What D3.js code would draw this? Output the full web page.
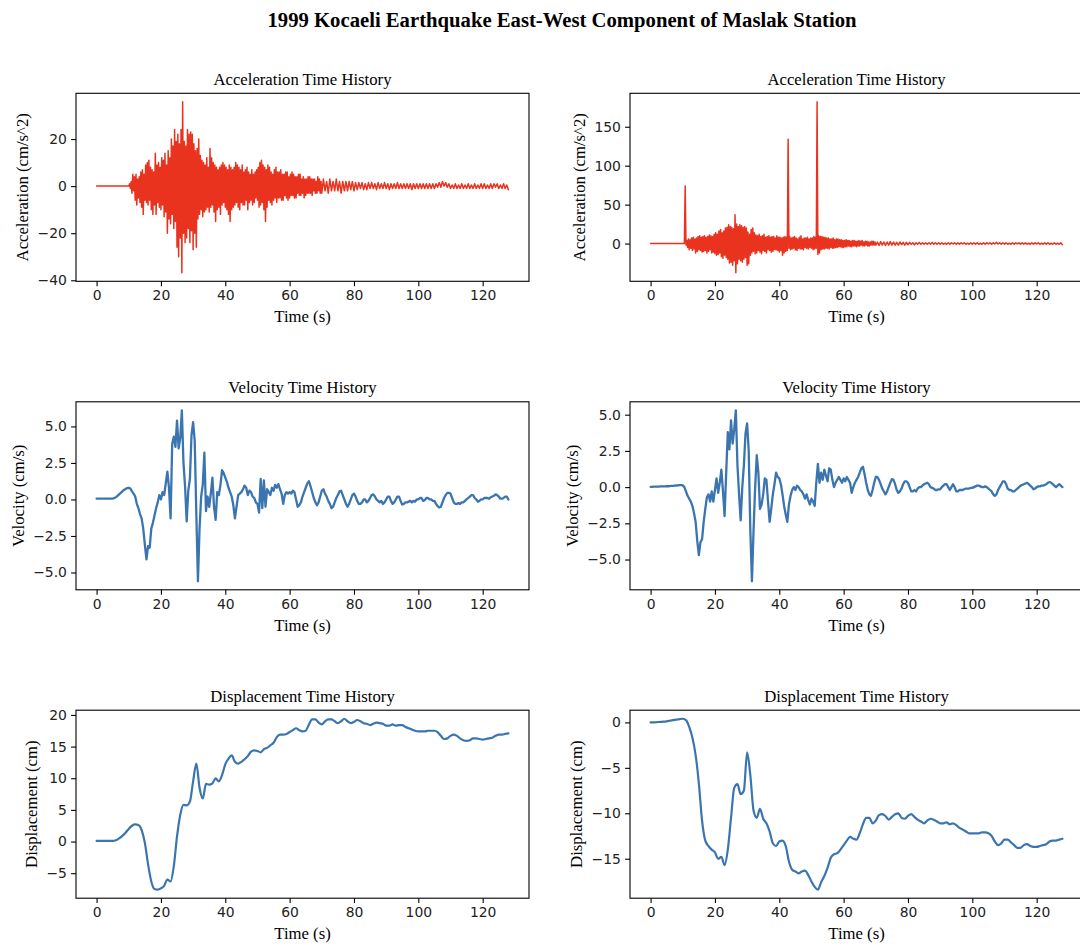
<!DOCTYPE html>
<html><head><meta charset="utf-8">
<script src="https://cdn.jsdelivr.net/npm/d3@7"></script>
<style>body{margin:0;background:#fff}</style>
</head><body>
<svg id="chart" width="1080" height="946"></svg>
<script>
// ---------------- DATA ----------------
const figTitle = "1999 Kocaeli Earthquake East-West Component of Maslak Station";
const panelTitles = ["Acceleration Time History","Velocity Time History","Displacement Time History"];
const yLabels = ["Acceleration (cm/s^2)","Velocity (cm/s)","Displacement (cm)"];
const xLabel = "Time (s)";
const xTicks = [0,20,40,60,80,100,120];
const accLeftTicks = [-40,-20,0,20];
const accRightTicks = [0,50,100,150];
const velTicks = [-5,-2.5,0,2.5,5];
const dispLeftTicks = [-5,0,5,10,15,20];
const dispRightTicks = [-15,-10,-5,0];

// acceleration: quiet until onset, then peaks every 0.25 s to 70 s, then every 0.5 s
const ACC_ONSET = 10, ACC_DT = 0.25, ACC_TAIL_START = 70.5, ACC_TAIL_DT = 0.5;
const accLeftStrong = [
0,1,-1,2, -3,5,-2,4, -6,5,-8,3, -5,4,-7,6, -9,7,-12,5, -6,9,-7,10, -8,11,-6,8, -10,7,-12,6, -8,14,-12,9, -7,10,-9,8,
-10,12,-8,11, -13,14,-11,9, -20,15,-14,12, -16,20,-12,17, -18,24,-15,19, -26,22,-30,18, -22,24,-36.8,35.8, -20,19,-24,17, -22,24,-18,22, -24,23,-19,22,
-27,18,-20,15, -26,16,-14,20, -12,13,-10,11, -13,10,-11,9, -10,12,-9,8, -11,16,-9,12, -8,10,-11,9, -15,8,-10,7, -9,8,-12,9, -8,10,-7,9,
-9,8,-10,7, -12,9,-15,8, -10,7,-9,8, -8,10,-7,9, -9,8,-10,7, -7,9,-8,6, -8,7,-6,8, -10,6,-7,5, -6,7,-8,5, -7,6,-5,7,
-6,8,-9,10, -8,11,-7,9, -10,8,-15,7, -9,9,-6,8, -7,6,-8,5, -6,7,-5,8, -7,6,-5,6, -5,7,-6,5, -6,5,-4,6, -5,6,-6,4,
-5,5,-4,6, -4,5,-5,4, -5,4,-3,5, -4,5,-4,3, -3,4,-5,3, -4,3,-3,4, -3,4,-3,3, -4,3,-2,3, -3,2,-3,4, -2,3,-3,2,
-3];
const accLeftTail = [
3,-2,2,-3,3,-2,2,-2,3,-2, 2,-3,2,-2,2,-2,2,-1.5,2,-2,
1.5,-1.5,1.5,-1,1.5,-1.5,1,-1.5,1.5,-1, 1.5,-1,1,-1.5,1.5,-1,1,-1,1.5,-1,
1,-1.5,1,-1,1,-1,1.5,-1,1,-1, 1,-1,1,-1,1,-1.5,1,-1,1,-1,
1,-1,1,-1,1,-1,1,-1,1,-1, 1,-0.5,1.5,-0.5,2,0,1.5,-0.5,1,-1,
0.5,-1,1,-1,0.5,-1,1,-1,0.5,-1, 1,-1,0.5,-1,1,-1,0.5,-1,1,-1,
1,-1,0.5,-1,1,-1,1,-0.5,1,-1, 0.5,-1,1,-1,0.5,-1.5];
const accRightStrong = [
0,0,0,74, -2,4,-5,6, -8,5,-6,7, -9,8,-7,6, -12,7,-10,9, -8,10,-9,8, -11,9,-10,10, -9,8,-12,9, -10,11,-8,10, -12,9,-11,12,
-13,14,-15,12, -14,16,-12,18, -17,14,-19,16, -15,20,-18,21, -20,24,-25,22, -24,21,-28,19, -22,37,-37.5,25, -26,22,-20,24, -22,23,-24,21, -20,22,-18,20,
-28,15,-26,12, -15,18,-12,20, -10,14,-13,11, -12,10,-9,12, -11,9,-13,10, -9,12,-10,8, -12,9,-8,10, -9,8,-11,9, -10,9,-8,7, -8,10,-9,8,
-11,8,-9,7, -15,8,-12,9, -10,8,-9,134, -6,9,-8,7, -7,8,-6,9, -8,7,-9,6, -6,8,-7,10, -7,6,-8,7, -5,7,-6,8, -7,6,-5,7,
-6,7,-8,9, -7,8,-6,182, -14,10,-12,9, -8,9,-7,8, -7,8,-6,7, -6,7,-7,6, -5,6,-6,7, -6,5,-5,6, -5,6,-4,5, -4,5,-5,4,
-5,4,-4,5, -4,4,-3,4, -4,3,-4,4, -3,4,-3,3, -4,3,-3,4, -3,3,-2,4, -3,2,-3,3, -2,3,-3,2, -3,2,-2,3, -2,3,-2,2,
-2];
const accRightTail = [
2,-2.5,2.5,-2,2,-2.5,2,-2,2.5,-2, 2,-2,1.5,-2,2,-1.5,1.5,-2,1.5,-1.5,
1.5,-1,1,-1.5,1,-1,1.5,-1,1,-1, 1,-1,1,-1,1.5,-1,1,-1,1,-1,
1,-1,0.5,-1,1,-1,1,-0.5,1,-1, 1,-1,1,-0.5,1,-1,0.5,-1,1,-1,
1,-1,1,-1,0.5,-1,1,-1,1,-0.5, 1,-1,1,-0.5,1.5,-0.5,1,-1,1,-1,
1,-1,0.5,-1,1,-1,1,-0.5,1,-1, 1,-1,1,-1,0.5,-1,1,-1,1,-0.5,
1,-1,0.5,-1,1,-1,1,-1,0.5,-1, 1,-1,0.5,-1,1,-1.5];

// velocity every 0.5 s from 0 to 128 s
const VEL_DT = 0.5;
const velLeft = [
0.05,0.05,0.05,0.05,0.05,0.05,0.05,0.05,0.05,0.05,
0.05,0.1,0.15,0.25,0.35,0.45,0.55,0.65,0.72,0.78,
0.8,0.75,0.55,0.4,0.2,-0.3,-0.6,-1.0,-1.3,-2.0,
-3.1,-4.1,-3.2,-3.3,-2.0,-1.6,-1.1,-0.6,-0.2,0.3,
0.0,0.5,0.3,1.1,1.9,0.8,-1.3,3.8,4.3,3.6,
5.4,3.5,4.2,6.1,2.5,0.9,-1.5,0.6,1.4,4.4,
5.3,4.0,-1.0,-5.6,-2.0,0.2,1.0,3.2,-0.8,0.2,
-0.5,0.4,1.5,-0.5,-1.4,0.5,0.3,1.0,2.0,1.8,
1.5,1.2,0.8,0.5,0.2,-0.4,-1.3,-0.5,0.3,0.4,
0.5,0.7,0.95,0.8,0.3,0.6,0.5,0.2,0.1,-0.2,
-0.3,-0.9,1.4,-0.6,1.3,-0.5,0.7,0.5,0.3,0.8,
0.6,1.0,0.8,1.05,0.7,0.4,-0.3,0.3,0.5,0.4,
0.5,0.4,0.6,0.5,0.0,-0.5,-0.4,-0.2,0.2,0.5,
0.8,1.1,1.25,0.9,0.5,0.1,-0.2,-0.4,-0.2,0.2,
0.6,0.7,0.4,0.2,-0.1,-0.3,-0.6,-0.5,-0.2,0.1,
0.3,0.55,0.6,0.3,0.0,-0.3,-0.5,-0.3,0.0,0.3,
0.4,0.2,-0.1,-0.3,-0.3,-0.2,0.0,0.0,-0.2,-0.1,
0.1,0.3,0.35,0.2,0.0,-0.1,-0.2,-0.1,-0.3,-0.2,
0.0,0.2,0.2,-0.1,-0.3,-0.2,0.0,0.2,0.2,-0.1,
-0.35,-0.3,-0.2,-0.2,-0.15,-0.1,-0.2,-0.1,-0.15,0.0,
0.0,0.1,0.1,-0.1,-0.05,0.1,0.1,0.0,0.0,-0.1,
-0.1,-0.3,-0.45,-0.55,-0.5,-0.2,0.1,0.3,0.45,0.45,
0.4,0.1,-0.2,-0.3,-0.3,-0.25,-0.3,-0.2,-0.2,-0.1,
0.0,0.1,0.2,0.3,0.3,0.1,0.0,-0.15,-0.1,0.0,
0.0,0.1,0.1,0.1,0.05,0.15,0.2,0.25,0.35,0.3,
0.2,0.05,0.05,0.1,0.2,0.2,0.0];
const velRight = [
0.02,0.02,0.03,0.03,0.04,0.04,0.05,0.05,0.05,0.05,
0.06,0.06,0.07,0.08,0.09,0.1,0.11,0.12,0.14,0.14,
0.12,0.0,-0.3,-0.6,-0.8,-1.0,-1.3,-1.8,-2.4,-3.7,
-4.7,-3.8,-3.6,-2.4,-1.5,-0.7,-0.5,-1.0,-0.3,-1.0,
-0.2,0.6,-0.4,0.3,1.2,-0.3,-2.0,1.0,3.8,2.6,
4.6,3.0,4.0,5.3,1.5,-0.5,-2.3,0.0,1.5,3.7,
4.4,2.5,-3.0,-6.5,-3.0,0.0,2.2,1.0,-1.5,-1.2,
-0.5,0.6,0.5,-1.0,-2.4,-1.5,-0.5,0.2,1.0,0.7,
0.6,0.2,-0.5,-1.3,-1.9,-2.4,-1.2,-0.6,-0.2,0.0,
-0.2,0.1,0.0,-0.2,-0.3,-0.5,-0.8,-0.5,-0.9,-1.2,
-0.8,-1.0,-1.3,0.3,1.6,0.3,1.0,0.5,1.2,0.8,
0.4,1.3,1.2,0.5,0.0,0.3,0.5,0.7,0.5,0.3,
0.6,0.4,0.7,0.5,0.3,-0.4,0.0,0.3,0.5,0.7,
1.0,1.3,1.4,0.9,0.3,-0.2,-0.5,-0.6,-0.2,0.3,
0.7,0.7,0.5,0.2,-0.1,-0.3,-0.5,-0.3,0.0,0.3,
0.55,0.5,0.2,-0.2,-0.4,-0.3,-0.1,0.2,0.4,0.4,
0.3,0.0,-0.3,-0.3,-0.2,-0.3,-0.1,0.0,0.0,0.1,
0.2,0.25,0.3,0.2,0.0,-0.05,-0.1,-0.2,-0.2,-0.15,
-0.15,0.0,0.1,0.2,0.2,0.0,-0.2,0.0,0.2,0.0,
-0.3,-0.3,-0.2,-0.2,-0.2,-0.15,-0.1,-0.1,-0.1,-0.05,
-0.05,0.0,0.05,0.1,0.1,0.05,0.0,0.0,0.05,0.0,
-0.1,-0.2,-0.3,-0.5,-0.6,-0.5,-0.2,0.0,0.2,0.4,
0.4,0.2,-0.1,-0.2,-0.2,-0.3,-0.3,-0.2,-0.1,0.0,
0.1,0.15,0.2,0.25,0.3,0.2,0.1,0.0,-0.15,-0.1,
0.0,0.05,0.05,0.1,0.1,0.15,0.2,0.3,0.35,0.3,
0.2,0.1,0.0,0.1,0.2,0.1,0.0];

// displacement every 1 s from 0 to 128 s
const DISP_DT = 1;
const dispLeft = [
0.1,0.1,0.1,0.1,0.1,0.1,0.2,0.5,0.9,1.4,
2.0,2.5,2.7,2.6,1.8,-0.2,-3.6,-6.3,-7.5,-7.6,
-7.4,-7.0,-6.0,-6.3,-3.9,0.8,4.2,5.8,5.7,6.3,
9.5,12.3,8.5,6.8,9.1,9.0,9.2,10.0,9.5,10.5,
12.2,13.1,13.6,12.6,12.3,12.6,13.0,13.5,14.2,14.4,
14.3,14.1,14.6,14.8,15.2,15.6,16.5,16.9,16.9,17.0,
17.3,17.6,17.9,17.6,17.4,17.5,18.5,19.3,19.3,18.8,
18.5,19.0,19.3,19.3,19.0,18.7,19.0,19.4,19.0,18.7,
18.9,19.2,19.0,18.7,18.6,18.4,18.6,18.8,18.7,18.6,
18.3,18.3,18.5,18.3,18.4,18.4,18.1,17.9,17.7,17.5,
17.4,17.4,17.4,17.5,17.5,17.5,17.3,16.7,16.2,16.3,
16.7,16.9,16.7,16.3,16.0,15.9,16.0,16.3,16.3,16.2,
16.1,16.2,16.3,16.4,16.7,16.9,16.9,17.0,17.1];
const dispRight = [
0.0,0.0,0.02,0.05,0.08,0.12,0.18,0.24,0.3,0.36,
0.4,0.25,-0.5,-1.7,-3.6,-6.7,-10.8,-13.0,-13.6,-14.0,
-14.3,-15.0,-14.8,-15.7,-14.0,-10.5,-7.2,-6.8,-7.9,-7.5,
-3.3,-5.8,-9.7,-10.5,-9.5,-10.6,-11.1,-12.0,-13.3,-13.6,
-13.1,-13.0,-13.6,-15.3,-16.2,-16.4,-16.6,-16.4,-16.3,-16.8,
-17.5,-18.1,-18.4,-17.6,-16.9,-16.0,-14.9,-14.5,-14.4,-14.0,
-13.5,-13.0,-12.6,-12.8,-12.9,-12.2,-11.2,-10.5,-10.5,-11.1,
-10.8,-10.2,-10.1,-10.3,-10.7,-10.4,-10.1,-10.0,-10.5,-10.6,
-10.3,-10.1,-10.4,-10.7,-10.9,-11.1,-10.8,-10.6,-10.7,-10.9,
-11.1,-11.1,-11.0,-11.2,-11.1,-11.3,-11.6,-11.8,-12.0,-12.2,
-12.2,-12.2,-12.2,-12.1,-12.1,-12.2,-12.5,-13.1,-13.5,-13.3,
-12.9,-12.9,-13.2,-13.5,-13.8,-13.8,-13.5,-13.4,-13.6,-13.7,
-13.7,-13.6,-13.5,-13.4,-13.1,-13.0,-13.0,-12.9,-12.8];

// ---------------- BUILD SERIES ----------------
function accSeries(strong, tail) {
  const pts = [[0, 0]];
  strong.forEach((v, i) => pts.push([ACC_ONSET + i * ACC_DT, v]));
  tail.forEach((v, i) => pts.push([ACC_TAIL_START + i * ACC_TAIL_DT, v]));
  return pts;
}
const uniform = (arr, dt) => arr.map((v, i) => [i * dt, v]);

const RED = "#e9331f", BLUE = "#3a75b0";
const fmtInt = d3.format("d"), fmt1 = d3.format(".1f");
const panels = [
  {row:0,col:0,data:accSeries(accLeftStrong,accLeftTail),color:RED,lw:1.5,ticks:accLeftTicks,fmt:fmtInt,curve:d3.curveLinear},
  {row:0,col:1,data:accSeries(accRightStrong,accRightTail),color:RED,lw:1.5,ticks:accRightTicks,fmt:fmtInt,curve:d3.curveLinear},
  {row:1,col:0,data:uniform(velLeft,VEL_DT),color:BLUE,lw:2.3,ticks:velTicks,fmt:fmt1,curve:d3.curveLinear},
  {row:1,col:1,data:uniform(velRight,VEL_DT),color:BLUE,lw:2.3,ticks:velTicks,fmt:fmt1,curve:d3.curveLinear},
  {row:2,col:0,data:uniform(dispLeft,DISP_DT),color:BLUE,lw:2.2,ticks:dispLeftTicks,fmt:fmtInt,curve:d3.curveMonotoneX},
  {row:2,col:1,data:uniform(dispRight,DISP_DT),color:BLUE,lw:2.2,ticks:dispRightTicks,fmt:fmtInt,curve:d3.curveMonotoneX}
];

// ---------------- LAYOUT ----------------
const colX = [76, 630], rowY = [93.3, 401.8, 710.2];
const W = 453, H = 188;
const SERIF = "'Liberation Serif','Times New Roman',serif";
const SANS = "'DejaVu Sans',sans-serif";
const svg = d3.select("#chart");

svg.append("text").attr("x", 562).attr("y", 27).attr("text-anchor", "middle")
  .attr("font-family", SERIF).attr("font-weight", "bold").attr("font-size", 20.7)
  .attr("fill", "#000").text(figTitle);

function padded(ext) { const r = ext[1] - ext[0]; return [ext[0] - 0.05 * r, ext[1] + 0.05 * r]; }

panels.forEach(p => {
  const left = colX[p.col], top = rowY[p.row];
  const g = svg.append("g").attr("transform", `translate(${left},${top})`);
  const x = d3.scaleLinear().domain(padded(d3.extent(p.data, d => d[0]))).range([0, W]);
  const y = d3.scaleLinear().domain(padded(d3.extent(p.data, d => d[1]))).range([H, 0]);

  const clipId = `clip${p.row}${p.col}`;
  g.append("clipPath").attr("id", clipId).append("rect").attr("width", W).attr("height", H);
  g.append("path").datum(p.data).attr("clip-path", `url(#${clipId})`)
    .attr("fill", "none").attr("stroke", p.color).attr("stroke-width", p.lw)
    .attr("stroke-linejoin", "round").attr("stroke-linecap", "round")
    .attr("d", d3.line().x(d => x(d[0])).y(d => y(d[1])).curve(p.curve));

  const gx = g.append("g").attr("transform", `translate(0,${H})`)
    .call(d3.axisBottom(x).tickValues(xTicks).tickSize(4.9).tickPadding(4.2).tickFormat(fmtInt));
  const gy = g.append("g")
    .call(d3.axisLeft(y).tickValues(p.ticks).tickSize(4.9).tickPadding(4.2).tickFormat(p.fmt));
  [gx, gy].forEach(a => {
    a.select(".domain").remove();
    a.selectAll("line").attr("stroke", "#000").attr("stroke-width", 1.1);
    a.selectAll("text").attr("font-family", SANS).attr("font-size", 13.9).attr("fill", "#222");
  });

  g.append("rect").attr("width", W).attr("height", H).attr("fill", "none")
    .attr("stroke", "#000").attr("stroke-width", 1.1);

  g.append("text").attr("x", W / 2).attr("y", -8.5).attr("text-anchor", "middle")
    .attr("font-family", SERIF).attr("font-size", 16.7).attr("fill", "#000")
    .text(panelTitles[p.row]);
  g.append("text").attr("x", W / 2).attr("y", H + 41).attr("text-anchor", "middle")
    .attr("font-family", SERIF).attr("font-size", 16.7).attr("fill", "#000")
    .text(xLabel);

  const bb = gy.node().getBBox();
  const bx = bb.x - 5.6 - 3.6;
  g.append("text").attr("transform", `translate(${bx},${H / 2}) rotate(-90)`)
    .attr("text-anchor", "middle")
    .attr("font-family", SERIF).attr("font-size", 16.7).attr("fill", "#000")
    .text(yLabels[p.row]);
});
</script>
</body></html>
